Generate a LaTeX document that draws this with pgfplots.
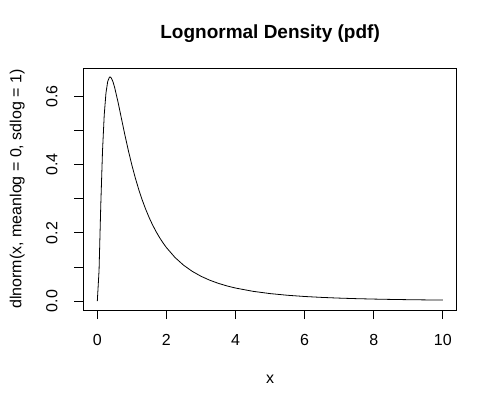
\documentclass[border=0pt]{standalone}
\usepackage{fontspec}
\setmainfont{Liberation Sans}
\usepackage{pgfplots}
\pgfplotsset{compat=1.18}
\begin{document}
\begin{tikzpicture}
\path[use as bounding box] (0,0) rectangle (485bp,394bp);
\begin{axis}[
  at={(83.5bp,84bp)}, anchor=south west,
  scale only axis, width=373.2bp, height=242bp,
  xmin=-0.4, xmax=10.4, ymin=-0.0263, ymax=0.684,
  axis line style={line width=0.8bp},
  every tick/.style={black, line width=0.8bp},
  tick align=outside, major tick length=9bp,
  xtick pos=lower, ytick pos=left,
  xtick={0,2,4,6,8,10}, xticklabels={0,2,4,6,8,10},
  ytick={0,0.1,0.2,0.3,0.4,0.5,0.6}, yticklabels={0.0,,0.2,,0.4,,0.6},
  /pgf/number format/assume math mode=true,
  tick label style={font=\fontsize{16bp}{19bp}\selectfont, inner sep=0pt},
  xticklabel style={anchor=base, yshift=-26bp},
  yticklabel style={rotate=90, anchor=base, yshift=17bp},
  xlabel={x}, ylabel={dlnorm(x, meanlog = 0, sdlog = 1)},
  label style={font=\fontsize{16bp}{19bp}\selectfont, inner sep=0pt},
  xlabel style={at={(rel axis cs:0.5,0)}, anchor=base, yshift=-73bp},
  ylabel style={at={(rel axis cs:0,0.5)}, rotate=0, anchor=base, yshift=62bp},
  title={Lognormal Density (pdf)},
  title style={font=\fontsize{19bp}{22bp}\selectfont\bfseries, inner sep=0pt, at={(rel axis cs:0.5,1)}, anchor=base, yshift=24bp},
]
\addplot[black, line width=0.8bp] coordinates {
(0,0) (0.05,0.08978) (0.1,0.28159) (0.15,0.43984) (0.2,0.54627) (0.25,0.61045)
(0.3,0.64421) (0.35,0.65693) (0.3679,0.65774) (0.4,0.65545) (0.45,0.64453) (0.5,0.62749)
(0.6,0.58358) (0.7,0.53480) (0.8,0.48641) (0.9,0.44081) (1.0,0.39894)
(1.1,0.36103) (1.2,0.32697) (1.3,0.29650) (1.4,0.26928) (1.5,0.24497)
(1.6,0.22327) (1.7,0.20386) (1.8,0.18647) (1.9,0.17089) (2.0,0.15687)
(2.25,0.12762) (2.5,0.10487) (2.75,0.086969) (3.0,0.072728) (3.25,0.061286)
(3.5,0.052005) (3.75,0.044413) (4.0,0.038154) (4.5,0.028606) (5.0,0.021851)
(5.5,0.016962) (6.0,0.013355) (6.5,0.010646) (7.0,0.0085817) (7.5,0.0069866)
(8.0,0.0057393) (8.5,0.0047532) (9.0,0.0039657) (9.5,0.0033314) (10.0,0.0028159)
};
\end{axis}
\end{tikzpicture}
\end{document}
